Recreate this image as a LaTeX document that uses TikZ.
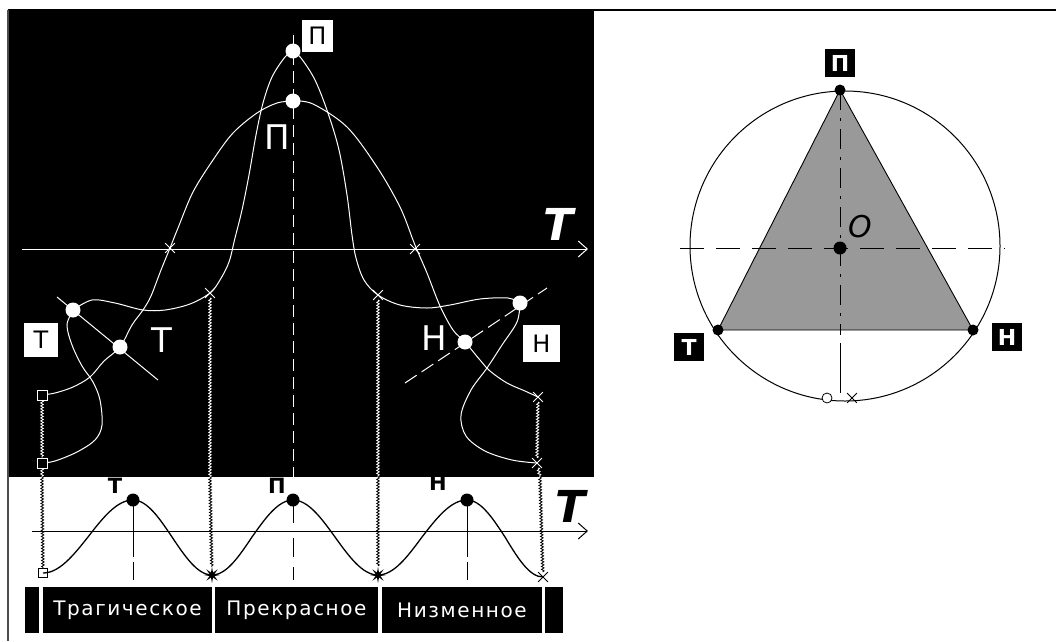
\documentclass[tikz,border=0pt]{standalone}
\usepackage{fontspec}
\setsansfont{DejaVu Sans}
\newfontfamily\barfont[LetterSpace=8]{DejaVu Sans}
\usetikzlibrary{arrows.meta,decorations.pathmorphing,shapes.misc,shapes.geometric}
\begin{document}
\begin{tikzpicture}[x=1pt,y=-1pt,
  wl/.style={white,line width=1pt},
  bl/.style={black,line width=1.3pt},
  wdot/.style={circle,fill=white,inner sep=0pt,minimum size=15pt},
  bdot/.style={circle,fill=black,inner sep=0pt,minimum size=11pt},
  wx/.style={cross out,draw=white,line width=0.8pt,inner sep=0pt,minimum size=9pt},
  bx/.style={cross out,draw=black,line width=0.8pt,inner sep=0pt,minimum size=9pt},
  wsq/.style={rectangle,draw=white,fill=black,line width=1pt,inner sep=0pt,minimum size=10pt},
  bsq/.style={rectangle,draw=black,fill=white,line width=1pt,inner sep=0pt,minimum size=9pt},
  burst/.style={star,star points=8,star point ratio=3,fill=black,inner sep=0pt,minimum size=16pt},
  wavy/.style={decorate,decoration={snake,amplitude=1.3pt,segment length=3pt},line width=0.8pt},
  wbox/.style={rectangle,fill=white,text=black,font=\sffamily\fontsize{24}{24}\selectfont,inner sep=0pt},
  kbox/.style={rectangle,fill=black,text=white,font=\sffamily\bfseries\fontsize{22}{22}\selectfont,minimum width=30pt,minimum height=28pt,inner sep=0pt},
  bar/.style={rectangle,fill=black,text=white,font=\barfont\fontsize{20}{20}\selectfont,inner sep=0pt,minimum height=46pt},
  big/.style={text=white,font=\sffamily\fontsize{34}{34}\selectfont,inner sep=0pt},
  lab/.style={text=black,font=\sffamily\bfseries\fontsize{21}{21}\selectfont,inner sep=0pt},
  axlab/.style={font=\sffamily\bfseries\itshape\fontsize{44}{44}\selectfont,inner sep=0pt},
]
\useasboundingbox (0,0) rectangle (1056,641);
\fill[white] (0,0) rectangle (1056,641);
\fill[black] (8,10) rectangle (594,477);
\draw[line width=2pt] (8,10) -- (1056,10);
\draw[line width=1.5pt,black!70] (8,10) -- (8,641);

% ---------- upper (black) panel ----------
\draw[wl,dash pattern=on 12pt off 6pt] (293,35) -- (293,477);
\draw[wl,-{Straight Barb[length=9pt,width=16pt]}] (22,249) -- (588,249);
\node[axlab,text=white] (Tup) at (558,224) {T};

% narrow curve
\draw[wl] plot[smooth,tension=0.55] coordinates {(293,51) (285,57) (272,77) (263,103) (256,135) (249,175) (242,210) (235,238) (229,262) (220,280) (210,293) (190,304) (165,310) (143,310) (115,303) (92,300) (73,310)};
\draw[wl] plot[smooth,tension=0.55] coordinates {(73,310) (67,325) (72,345) (82,366) (93,382) (100,400) (102,425) (95,440) (77,452) (55,461) (42,463)};
\draw[wl] plot[smooth,tension=0.55] coordinates {(293,51) (301,58) (315,80) (328,113) (339,150) (347,195) (352,235) (356,258) (364,280) (378,295) (400,305) (427,308) (450,305) (480,299) (508,298) (520,303)};
\draw[wl] plot[smooth,tension=0.55] coordinates {(520,303) (517,322) (502,345) (487,368) (471,390) (461,415) (466,436) (485,451) (512,460) (537,463)};
% wide curve
\draw[wl] plot[smooth,tension=0.55] coordinates {(293,101) (277,103) (257,113) (233,133) (213,160) (193,192) (178,228) (170,248) (161,270) (151,296) (143,310) (132,325) (120,347) (104,361) (90,377) (73,387) (55,393) (42,395)};
\draw[wl] plot[smooth,tension=0.55] coordinates {(293,101) (313,104) (347,127) (377,167) (400,207) (413,240) (417,250) (427,273) (440,306) (453,330) (465,342) (480,360) (490,371) (507,383) (525,391) (538,397)};

% normals through T and H points
\coordinate (tA) at (57,297);
\coordinate (tB) at (158,380);
\draw[wl] (tA) -- (tB);
\coordinate (hA) at (405,383);
\coordinate (hB) at (547,288);
\draw[wl,dash pattern=on 14pt off 6pt] (hA) -- (hB);

% points
\node[wdot] (P1) at (293,51) {};
\node[wdot] (P2) at (293,101) {};
\node[wdot] (T1) at (73,310) {};
\node[wdot] (T2) at (120,347) {};
\node[wdot] (H2) at (465,342) {};
\node[wdot] (H1) at (520,303) {};
\node[wx] (x1) at (170,248) {};
\node[wx] (x2) at (415,249) {};
\node[wx] (x3) at (210,293) {};
\node[wx] (x4) at (378,295) {};
\node[wx] (x5) at (538,397) {};
\node[wx] (x6) at (537,463) {};
\node[wsq] (s1) at (42,395) {};
\node[wsq] (s2) at (42,463) {};

% labels
\node[wbox,minimum width=31pt,minimum height=32pt] (bP) at (317.5,35.5) {П};
\node[wbox,minimum width=34pt,minimum height=34pt] (bT) at (41,340) {Т};
\node[wbox,minimum width=37pt,minimum height=37pt] (bH) at (541.5,343.5) {Н};
\node[big] (gP) at (277,137) {П};
\node[big] (gT) at (162,340) {Т};
\node[big] (gH) at (434,338) {Н};

% ---------- lower (white) panel ----------
\coordinate (e1) at (42,477);
\coordinate (e2) at (210,477);
\coordinate (e3) at (378,477);
\coordinate (e4) at (540,477);
\node[bsq] (q0) at (43,573) {};
\node[burst] (m1) at (212,575) {};
\node[burst] (m2) at (378,575) {};
\node[bx] (m3) at (543,577) {};

\draw[wavy,white] (s1) -- (s2);
\draw[wavy,white] (s2) -- (e1);
\draw[wavy,white] (x3) -- (e2);
\draw[wavy,white] (x4) -- (e3);
\draw[wavy,white] (x5) -- (x6);
\draw[wavy,white] (x6) -- (e4);
\draw[wavy,black] (e1) -- (q0);
\draw[wavy,black] (e2) -- (m1);
\draw[wavy,black] (e3) -- (m2);
\draw[wavy,black] (e4) -- (m3);

\draw[black,line width=1pt,-{Straight Barb[length=9pt,width=16pt]}] (32,531) -- (588,531);
\node[axlab,text=black] (Tlo) at (570,506) {T};

\draw[black,line width=1pt] (133,505) -- (133,557) (133,562) -- (133,580);
\draw[black,line width=1pt] (293,503) -- (293,523) (293,538) -- (293,557) (293,567) -- (293,580);
\draw[black,line width=1pt] (467,505) -- (467,557) (467,562) -- (467,580);

\draw[bl] (43,573) cos (88,537) sin (133,500) cos (172,537) sin (212,575) cos (252,537) sin (293,500) cos (335,537) sin (378,575) cos (422,537) sin (467,500) cos (505,537) sin (543,577);
\node[bdot,minimum size=13pt] (pT) at (133,500) {};
\node[bdot,minimum size=13pt] (pP) at (293,500) {};
\node[bdot,minimum size=13pt] (pH) at (467,500) {};
\node[lab] (lT) at (115,486) {Т};
\node[lab] (lP) at (277,486) {П};
\node[lab] (lH) at (438,483) {Н};

\node[bar,minimum width=14pt] (r0) at (32,610) {};
\node[bar,minimum width=169pt] (r1) at (127.5,610) {Трагическое};
\node[bar,minimum width=163pt] (r2) at (296.5,610) {Прекрасное};
\node[bar,minimum width=160pt] (r3) at (462,610) {Низменное};
\node[bar,minimum width=18pt] (r4) at (554,610) {};

% ---------- right panel ----------
\coordinate (Oc) at (845,246);
\coordinate (vP) at (840,90);
\coordinate (vT) at (718,330);
\coordinate (vH) at (973,330);
\filldraw[fill=black!40,draw=black,line width=0.9pt] (vP) -- (vT) -- (vH) -- cycle;
\draw[line width=1pt] (Oc) circle[radius=155pt];
\draw[line width=0.9pt,dash pattern=on 24pt off 12pt] (680,248) -- (1005,248);
\draw[line width=0.9pt,dash pattern=on 20pt off 8pt on 3pt off 8pt] (840,90) -- (840,335);
\draw[line width=0.9pt] (840,343) -- (840,393);
\node[bdot] (dP) at (vP) {};
\node[bdot] (dT) at (vT) {};
\node[bdot] (dH) at (vH) {};
\node[bdot,minimum size=13pt] (dO) at (840,248) {};
\node[font=\sffamily\itshape\fontsize{30}{30}\selectfont,inner sep=0pt] (lO) at (860,227) {O};
\node[circle,draw=black,fill=white,line width=0.8pt,inner sep=0pt,minimum size=10pt] (oc) at (827,398) {};
\node[bx] (ox) at (852,398) {};
\node[kbox] (kP) at (840,63) {П};
\node[kbox] (kT) at (689,347) {Т};
\node[kbox] (kH) at (1007,337) {Н};
\end{tikzpicture}
\end{document}
